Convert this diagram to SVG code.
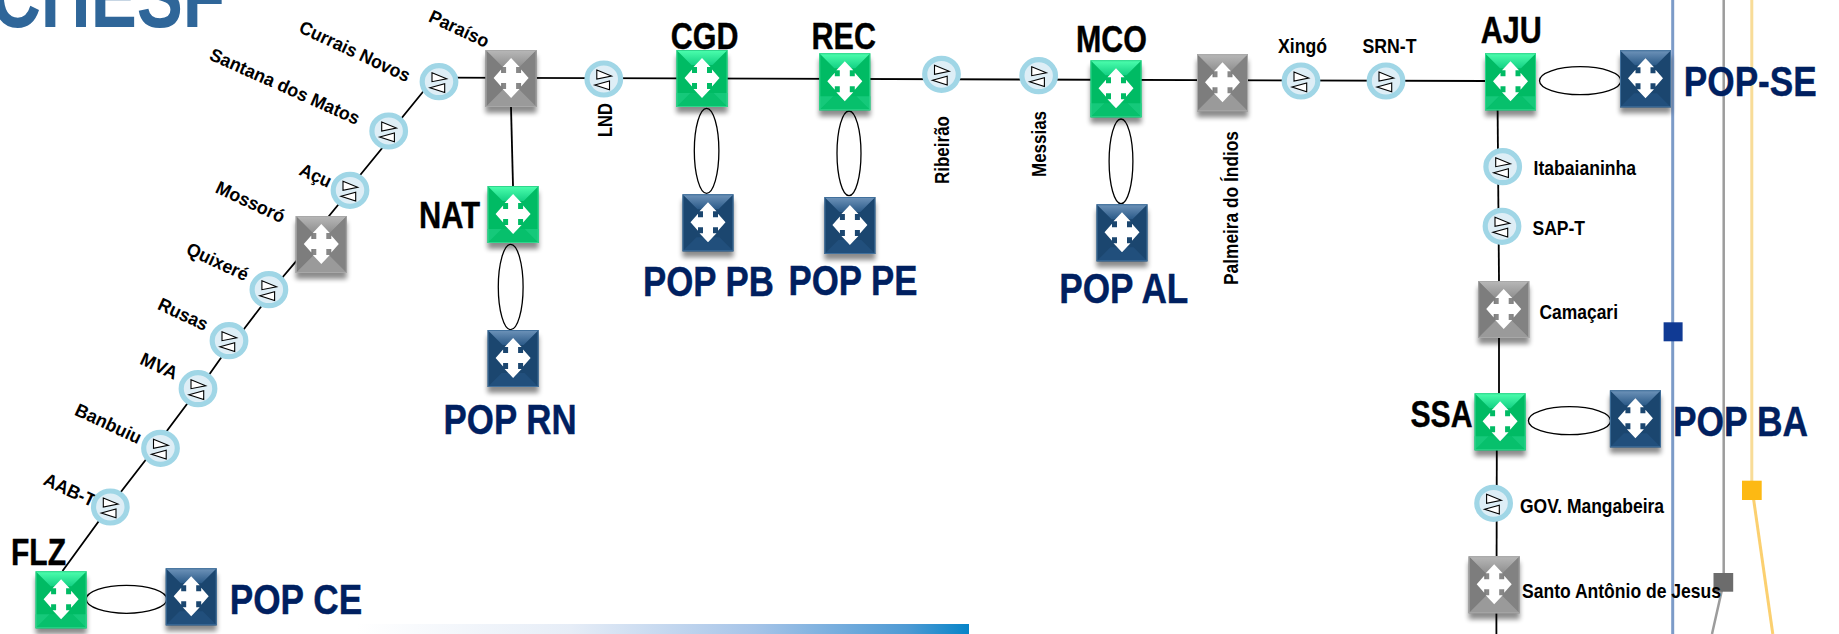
<svg xmlns="http://www.w3.org/2000/svg" width="1839" height="634" viewBox="0 0 1839 634">
<style>
text{font-family:"Liberation Sans",Arial,sans-serif;font-weight:bold;fill:#000}
.pop{font-size:42px;fill:#002060;stroke:#002060;stroke-width:.4}
.site{font-size:37px;stroke:#000;stroke-width:.4}
.small{font-size:21px}
.tilt{font-size:18.5px;text-anchor:middle}
.vert{font-size:19.5px}
.title{font-size:90px;fill:#2f6699}
.link{fill:none;stroke:#000;stroke-width:1.8}
.ring{fill:#fff;stroke:#000;stroke-width:1.3}
.tri{fill:#fff;stroke:#000;stroke-width:1.1}
.arrow{fill:#fff}
</style>
<defs>
<filter id="blur" x="-30%" y="-30%" width="160%" height="160%"><feGaussianBlur stdDeviation="2.5"/></filter>
<linearGradient id="gTop" x1="0" y1="0" x2="0" y2="1"><stop offset="0" stop-color="#4dffae"/><stop offset="1" stop-color="#14d184"/></linearGradient>
<linearGradient id="kTop" x1="0" y1="0" x2="0" y2="1"><stop offset="0" stop-color="#b8b8b8"/><stop offset="1" stop-color="#8f8f8f"/></linearGradient>
<linearGradient id="bTop" x1="0" y1="0" x2="0" y2="1"><stop offset="0" stop-color="#6f94ba"/><stop offset="1" stop-color="#2b5a88"/></linearGradient>
<linearGradient id="band" x1="0" y1="0" x2="1" y2="0"><stop offset="0" stop-color="#fff"/><stop offset=".35" stop-color="#e6edf7"/><stop offset=".65" stop-color="#a6c4e8"/><stop offset=".9" stop-color="#4e9ad4"/><stop offset="1" stop-color="#0684c8"/></linearGradient>
<polygon id="cross" class="arrow" points="0,-20 8.5,-11 5,-11 5,-5 10,-5 10,-8.5 17.5,0 10,8.5 10,5 5,5 5,11 8.5,11 0,20 -8.5,11 -5,11 -5,5 -10,5 -10,8.5 -17.5,0 -10,-8.5 -10,-5 -5,-5 -5,-11 -8.5,-11"/>
<rect id="shadow" x="0" y="6" width="51" height="57" fill="#000" opacity=".45" filter="url(#blur)"/>
<g id="sw-green">
<use href="#shadow"/><rect width="51" height="57" fill="#00bb64"/>
<polygon points="0,0 51,0 36,15 15,15" fill="url(#gTop)"/>
<polygon points="0,57 51,57 37,43 14,43" fill="#07c06c"/>
<polygon points="0,57 14,43 0,43" fill="#15c97a"/><polygon points="51,57 37,43 51,43" fill="#15c97a"/>
<rect x=".5" y=".5" width="50" height="56" fill="none" stroke="#2fd68c" stroke-width="1"/>
<use href="#cross" x="25.5" y="28"/>
</g>
<g id="sw-gray">
<use href="#shadow"/><rect width="51" height="57" fill="#888"/>
<polygon points="0,0 51,0 34,17 17,17" fill="url(#kTop)"/>
<polygon points="0,0 17,17 17,40 0,57" fill="#7d7d7d"/><polygon points="51,0 34,17 34,40 51,57" fill="#828282"/>
<polygon points="0,57 51,57 34,40 17,40" fill="#9a9a9a"/>
<rect x=".5" y=".5" width="50" height="56" fill="none" stroke="#a8a8a8" stroke-width="1"/>
<use href="#cross" x="25.5" y="28"/>
</g>
<g id="sw-blue">
<use href="#shadow"/><rect width="51" height="57" fill="#1b466f"/>
<polygon points="0,0 51,0 36,15 15,15" fill="url(#bTop)"/>
<polygon points="0,57 51,57 37,43 14,43" fill="#214f7c"/>
<rect x=".5" y=".5" width="50" height="56" fill="none" stroke="#41709c" stroke-width="1"/>
<use href="#cross" x="25.5" y="28"/>
</g>
<g id="rep">
<ellipse rx="16.8" ry="16" fill="#deeef6" stroke="#a0d6e6" stroke-width="5.2"/>
<polygon class="tri" points="-7,-9 7.7,-3 -7,0"/>
<polygon class="tri" points="5.7,2 5.7,10.7 -9,6"/>
</g>
</defs>
<rect width="1839" height="634" fill="#fff"/>
<g id="background">
<rect x="357" y="624" width="612" height="10" fill="url(#band)"/>
<path d="M1672.7 0V634" fill="none" stroke="#7c9bc8" stroke-width="3"/>
<path d="M1723.7 0V582L1712 634" fill="none" stroke="#9c9c9c" stroke-width="2.5"/>
<path d="M1751.8 0V490" fill="none" stroke="#f8dc98" stroke-width="3"/>
<path d="M1753 495L1772.8 634" fill="none" stroke="#fbd070" stroke-width="3"/>
<rect x="1663.6" y="322.3" width="19" height="19" fill="#103a94"/>
<rect x="1742" y="480.7" width="19.7" height="19.3" fill="#fdb913"/>
<rect x="1713.5" y="573" width="19.7" height="18.7" fill="#6c6c6c"/>
</g>
<text class="title" x="-9" y="26.5" textLength="234" lengthAdjust="spacingAndGlyphs">CHESF</text>
<g id="connectors">
<polyline class="link" points="62.5,571 98,522.3 121.8,490.7 145,460.7 167,430.7 187,404 209.6,374 221.4,357.3 244,329 261,306.7 283,276.7 295.8,261.7 329,216 338,205 361,174 382,148.3 402.5,117 422,93 432,80"/>
<path class="link" d="M450 77.7L1485 81"/>
<path class="link" d="M511 107L513 186"/>
<path class="link" d="M1497.6 109L1499 281"/>
<path class="link" d="M1499 338V394"/>
<path class="link" d="M1496.8 450L1496.6 556"/>
<path class="link" d="M1496.4 613V634"/>
<ellipse class="ring" cx="706.6" cy="150.8" rx="12.3" ry="42.5"/>
<ellipse class="ring" cx="849" cy="153.3" rx="12" ry="42.3"/>
<ellipse class="ring" cx="1121" cy="161.3" rx="11.9" ry="42.3"/>
<ellipse class="ring" cx="510.7" cy="287" rx="12.4" ry="42.7"/>
<ellipse class="ring" cx="126.5" cy="599.3" rx="40.3" ry="14"/>
<ellipse class="ring" cx="1580.2" cy="80.7" rx="40.7" ry="14"/>
<ellipse class="ring" cx="1569.5" cy="420.7" rx="41.1" ry="14"/>
</g>
<g id="flz"><use href="#sw-green" x="35.6" y="571.3"/><text class="site" x="11" y="565" textLength="55" lengthAdjust="spacingAndGlyphs">FLZ</text></g>
<g id="pop-ce"><use href="#sw-blue" x="165.7" y="568.3"/><text class="pop" x="229.8" y="613.5" textLength="132.3" lengthAdjust="spacingAndGlyphs">POP CE</text></g>
<g id="aab-t"><text class="tilt" transform="translate(69.6,490.3) rotate(25)" y="6" textLength="55" lengthAdjust="spacingAndGlyphs">AAB-T</text><use href="#rep" x="110.3" y="507"/></g>
<g id="banbuiu"><text class="tilt" transform="translate(108.3,424) rotate(25)" y="6" textLength="71" lengthAdjust="spacingAndGlyphs">Banbuiu</text><use href="#rep" x="160.5" y="448.3"/></g>
<g id="mva"><text class="tilt" transform="translate(159,366.3) rotate(25)" y="6" textLength="39" lengthAdjust="spacingAndGlyphs">MVA</text><use href="#rep" x="198" y="388.7"/></g>
<g id="rusas"><text class="tilt" transform="translate(183,314.5) rotate(25)" y="6" textLength="53" lengthAdjust="spacingAndGlyphs">Rusas</text><use href="#rep" x="229" y="340.7"/></g>
<g id="quixere"><text class="tilt" transform="translate(217.5,262) rotate(25)" y="6" textLength="66" lengthAdjust="spacingAndGlyphs">Quixeré</text><use href="#rep" x="268.9" y="289.7"/></g>
<g id="mossoro"><use href="#sw-gray" x="295.8" y="216"/><text class="tilt" transform="translate(250.3,202.3) rotate(25)" y="6" textLength="74" lengthAdjust="spacingAndGlyphs">Mossoró</text></g>
<g id="acu"><text class="tilt" transform="translate(315.5,175.7) rotate(25)" y="6" textLength="33" lengthAdjust="spacingAndGlyphs">Açu</text><use href="#rep" x="350" y="190.3"/></g>
<g id="santana"><text class="tilt" transform="translate(284.7,86.7) rotate(24)" y="6" textLength="162" lengthAdjust="spacingAndGlyphs">Santana dos Matos</text><use href="#rep" x="388.7" y="131"/></g>
<g id="currais"><text class="tilt" transform="translate(354.7,51.7) rotate(25)" y="6" textLength="120" lengthAdjust="spacingAndGlyphs">Currais Novos</text><use href="#rep" x="439" y="81.7"/></g>
<g id="paraiso"><use href="#sw-gray" x="485.6" y="50"/><text class="tilt" transform="translate(459,29) rotate(25)" y="6" textLength="64" lengthAdjust="spacingAndGlyphs">Paraíso</text></g>
<g id="nat"><use href="#sw-green" x="487.6" y="186"/><text class="site" x="419" y="228" textLength="61" lengthAdjust="spacingAndGlyphs">NAT</text></g>
<g id="pop-rn"><use href="#sw-blue" x="487.6" y="330"/><text class="pop" x="443.6" y="433.8" textLength="133" lengthAdjust="spacingAndGlyphs">POP RN</text></g>
<g id="lnd"><use href="#rep" x="603.8" y="79"/><text class="vert" transform="translate(611.7,137) rotate(-90)" textLength="34" lengthAdjust="spacingAndGlyphs">LND</text></g>
<g id="cgd"><use href="#sw-green" x="676.5" y="50"/><text class="site" x="670.8" y="49.3" textLength="67.6" lengthAdjust="spacingAndGlyphs">CGD</text></g>
<g id="pop-pb"><use href="#sw-blue" x="682.5" y="194.3"/><text class="pop" x="643" y="295.5" textLength="131" lengthAdjust="spacingAndGlyphs">POP PB</text></g>
<g id="rec"><use href="#sw-green" x="819.3" y="53.3"/><text class="site" x="811.6" y="48.7" textLength="64.4" lengthAdjust="spacingAndGlyphs">REC</text></g>
<g id="pop-pe"><use href="#sw-blue" x="824.4" y="197"/><text class="pop" x="788.5" y="294.5" textLength="129" lengthAdjust="spacingAndGlyphs">POP PE</text></g>
<g id="ribeirao"><use href="#rep" x="941.5" y="74.3"/><text class="vert" transform="translate(949,184) rotate(-90)" textLength="68" lengthAdjust="spacingAndGlyphs">Ribeirão</text></g>
<g id="messias"><use href="#rep" x="1038.7" y="75.7"/><text class="vert" transform="translate(1045.8,177) rotate(-90)" textLength="66" lengthAdjust="spacingAndGlyphs">Messias</text></g>
<g id="mco"><use href="#sw-green" x="1090.5" y="60.3"/><text class="site" x="1076" y="51.7" textLength="71" lengthAdjust="spacingAndGlyphs">MCO</text></g>
<g id="pop-al"><use href="#sw-blue" x="1096.5" y="204.3"/><text class="pop" x="1059.3" y="302.5" textLength="129" lengthAdjust="spacingAndGlyphs">POP AL</text></g>
<g id="palmeira"><use href="#sw-gray" x="1197" y="54.3"/><text class="vert" transform="translate(1237.8,285) rotate(-90)" textLength="154" lengthAdjust="spacingAndGlyphs">Palmeira do Índios</text></g>
<g id="xingo"><use href="#rep" x="1301" y="81"/><text class="small" x="1278" y="52.7" textLength="49" lengthAdjust="spacingAndGlyphs">Xingó</text></g>
<g id="srn-t"><use href="#rep" x="1386" y="81"/><text class="small" x="1362.5" y="52.7" textLength="54" lengthAdjust="spacingAndGlyphs">SRN-T</text></g>
<g id="aju"><use href="#sw-green" x="1485" y="53.3"/><text class="site" x="1480.8" y="43.3" textLength="61" lengthAdjust="spacingAndGlyphs">AJU</text></g>
<g id="pop-se"><use href="#sw-blue" x="1620" y="50.3"/><text class="pop" x="1683.8" y="95.8" textLength="133" lengthAdjust="spacingAndGlyphs">POP-SE</text></g>
<g id="itabaianinha"><use href="#rep" x="1502.7" y="166.7"/><text class="small" x="1533.5" y="175" textLength="102.5" lengthAdjust="spacingAndGlyphs">Itabaianinha</text></g>
<g id="sap-t"><use href="#rep" x="1502" y="226.3"/><text class="small" x="1532.5" y="235" textLength="52.5" lengthAdjust="spacingAndGlyphs">SAP-T</text></g>
<g id="camacari"><use href="#sw-gray" x="1478.2" y="281"/><text class="small" x="1539.5" y="319" textLength="78.5" lengthAdjust="spacingAndGlyphs">Camaçari</text></g>
<g id="ssa"><use href="#sw-green" x="1474.6" y="393.3"/><text class="site" x="1410.5" y="427.3" textLength="62" lengthAdjust="spacingAndGlyphs">SSA</text></g>
<g id="pop-ba"><use href="#sw-blue" x="1609.9" y="390.3"/><text class="pop" x="1673" y="435.8" textLength="135" lengthAdjust="spacingAndGlyphs">POP BA</text></g>
<g id="gov"><use href="#rep" x="1493.6" y="503.3"/><text class="small" x="1520" y="513" textLength="144" lengthAdjust="spacingAndGlyphs">GOV. Mangabeira</text></g>
<g id="santo"><use href="#sw-gray" x="1468.7" y="556.3"/><text class="small" x="1522" y="598" textLength="199" lengthAdjust="spacingAndGlyphs">Santo Antônio de Jesus</text></g>
</svg>
